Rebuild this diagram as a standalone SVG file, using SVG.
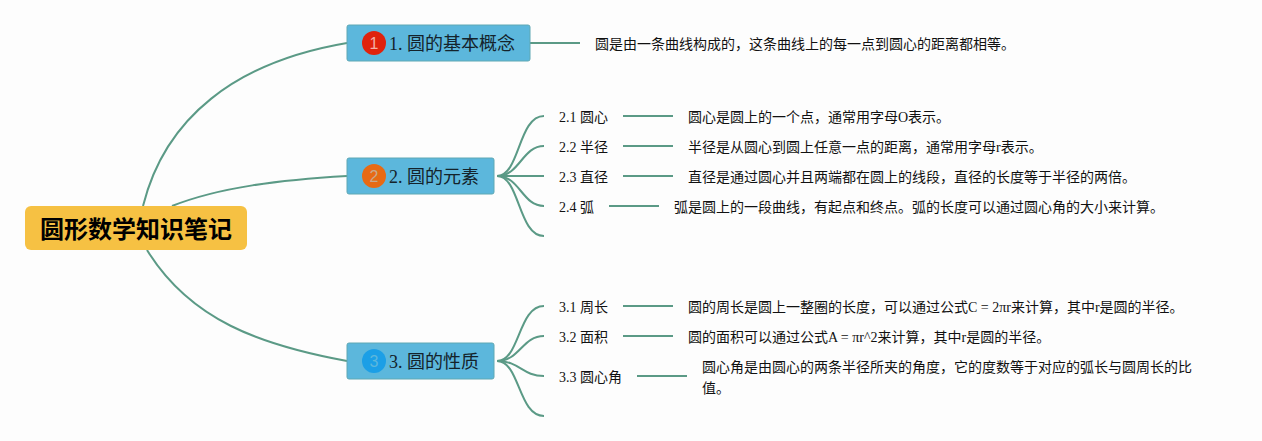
<svg xmlns="http://www.w3.org/2000/svg" width="1262" height="441" viewBox="0 0 1262 441">
<style>
text{font-family:"Liberation Serif","Noto Sans CJK SC",serif;fill:#111}
.l{fill:none;stroke:#5b9a86;stroke-width:2;stroke-linecap:butt}
.b{fill:#5cb7dc;stroke:#5fa8b4;stroke-width:1}
.t{font-size:18px;fill:#14232b}
.s{font-size:14px}
.n{font-family:"Liberation Sans",sans-serif;font-size:16px;text-anchor:middle}
</style>
<rect width="1262" height="441" fill="#fdfdfd"/>
<g id="connectors">
<path class="l" d="M143 206C165 118 235 62 347 43"/>
<path class="l" d="M172 206C220 187 280 180 347 176"/>
<path class="l" d="M147 250C190 320 260 345 347 361"/>
<path class="l" d="M530 43H580"/>
<path class="l" d="M497 176C520 176 518 116 544 116"/>
<path class="l" d="M497 176C520 176 522 146 544 146"/>
<path class="l" d="M497 176H544"/>
<path class="l" d="M497 176C520 176 522 206 544 206"/>
<path class="l" d="M497 176C520 176 518 236 544 236"/>
<path class="l" d="M623 116H673M623 146H673M623 176H673M609 206H659"/>
<path class="l" d="M497 361C520 361 518 306 544 306"/>
<path class="l" d="M497 361C520 361 522 336 544 336"/>
<path class="l" d="M497 361C520 361 522 376 544 376"/>
<path class="l" d="M497 361C520 361 518 416 544 416"/>
<path class="l" d="M623 306H673M623 336H673M637 376H687"/>
</g>
<g id="root"><rect x="25" y="206" width="222" height="44" rx="6" fill="#f6c143"/><text x="136" y="238" text-anchor="middle" style="font-size:24px;font-weight:700;font-family:'Noto Sans CJK SC',sans-serif;fill:#000">圆形数学知识笔记</text></g>
<g id="n1"><rect class="b" x="347" y="25" width="183" height="36" rx="2"/><circle cx="374" cy="43" r="12" fill="#e0220c"/><text class="n" x="374" y="49" style="fill:#f3b0a5">1</text><text class="t" x="389" y="50">1. 圆的基本概念</text></g>
<g id="n1d"><text class="s" x="595" y="49">圆是由一条曲线构成的，这条曲线上的每一点到圆心的距离都相等。</text></g>
<g id="n2"><rect class="b" x="347" y="158" width="147" height="36" rx="2"/><circle cx="374" cy="176" r="12" fill="#e76a14"/><text class="n" x="374" y="182" style="fill:#c9a98c">2</text><text class="t" x="389" y="183">2. 圆的元素</text></g>
<g id="n21"><text class="s" x="559" y="122">2.1 圆心</text><text class="s" x="688" y="122">圆心是圆上的一个点，通常用字母O表示。</text></g>
<g id="n22"><text class="s" x="559" y="152">2.2 半径</text><text class="s" x="688" y="152">半径是从圆心到圆上任意一点的距离，通常用字母r表示。</text></g>
<g id="n23"><text class="s" x="559" y="182">2.3 直径</text><text class="s" x="688" y="182">直径是通过圆心并且两端都在圆上的线段，直径的长度等于半径的两倍。</text></g>
<g id="n24"><text class="s" x="559" y="212">2.4 弧</text><text class="s" x="674" y="212">弧是圆上的一段曲线，有起点和终点。弧的长度可以通过圆心角的大小来计算。</text></g>
<g id="n3"><rect class="b" x="347" y="343" width="147" height="36" rx="2"/><circle cx="374" cy="361" r="12" fill="#1c9fe6"/><text class="n" x="374" y="367" style="fill:#5cb7dc">3</text><text class="t" x="389" y="368">3. 圆的性质</text></g>
<g id="n31"><text class="s" x="559" y="312">3.1 周长</text><text class="s" x="688" y="312">圆的周长是圆上一整圈的长度，可以通过公式C = 2πr来计算，其中r是圆的半径。</text></g>
<g id="n32"><text class="s" x="559" y="342">3.2 面积</text><text class="s" x="688" y="342">圆的面积可以通过公式A = πr^2来计算，其中r是圆的半径。</text></g>
<g id="n33"><text class="s" x="559" y="382">3.3 圆心角</text><text class="s" x="702" y="372">圆心角是由圆心的两条半径所夹的角度，它的度数等于对应的弧长与圆周长的比</text><text class="s" x="702" y="393">值。</text></g>
</svg>
